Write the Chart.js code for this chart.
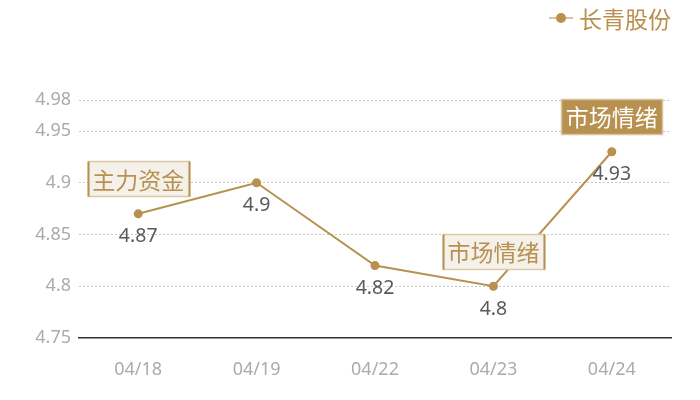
<!DOCTYPE html>
<html><head><meta charset="utf-8">
<script src="https://cdn.jsdelivr.net/npm/chart.js@4.4.1/dist/chart.umd.min.js"></script>
<style>html,body{margin:0;padding:0;background:#fff}#wrap{width:700px;height:400px}</style>
</head><body><div id="wrap"><canvas id="c"></canvas></div>
<script>
const categories = ['04/18','04/19','04/22','04/23','04/24'];
const seriesName = '长青股份';
const values = [4.87, 4.9, 4.82, 4.8, 4.93];
const yTicks = [4.75, 4.8, 4.85, 4.9, 4.95, 4.98];
const notes = [
  {index: 0, text: '主力资金', dark: false},
  {index: 3, text: '市场情绪', dark: false},
  {index: 4, text: '市场情绪', dark: true}
];

const GOLD = '#b8904f';
const NUM_FONT = '"Noto Sans", "Noto Sans CJK SC", sans-serif';
const CJK_FONT = '"Noto Sans CJK SC", sans-serif';

const overlay = {
  id: 'overlay',
  afterDatasetsDraw(chart) {
    const ctx = chart.ctx;
    const xs = chart.scales.x, ys = chart.scales.y;
    ctx.save();
    // data labels
    ctx.font = '19.5px ' + NUM_FONT;
    ctx.fillStyle = '#5a5a5a';
    ctx.textAlign = 'center';
    ctx.textBaseline = 'middle';
    values.forEach((v, i) => {
      ctx.fillText(String(v), xs.getPixelForValue(i), ys.getPixelForValue(v) + 23);
    });
    // note boxes
    ctx.font = '23px ' + CJK_FONT;
    notes.forEach(n => {
      const cx = xs.getPixelForValue(n.index);
      const cy = ys.getPixelForValue(values[n.index]) - 35;
      const w = 101, h = 35;
      const x0 = Math.round(cx - w / 2) + 0.5, y0 = Math.round(cy - h / 2) + 0.5;
      ctx.fillStyle = n.dark ? GOLD : '#f4f0ea';
      ctx.fillRect(x0, y0, w, h);
      ctx.lineWidth = 1.5;
      ctx.strokeStyle = n.dark ? '#d8c39c' : '#dccaa6';
      ctx.strokeRect(x0, y0, w, h);
      if (!n.dark) {
        ctx.strokeStyle = GOLD;
        ctx.lineWidth = 2;
        ctx.beginPath();
        ctx.moveTo(x0, y0); ctx.lineTo(x0, y0 + h);
        ctx.moveTo(x0 + w, y0); ctx.lineTo(x0 + w, y0 + h);
        ctx.stroke();
      }
      ctx.fillStyle = n.dark ? '#ffffff' : GOLD;
      ctx.textAlign = 'center';
      ctx.textBaseline = 'middle';
      ctx.fillText(n.text, cx, cy + 1);
    });
    // legend
    const lx = 561, ly = 18;
    ctx.strokeStyle = '#d8c39c';
    ctx.lineWidth = 2;
    ctx.beginPath(); ctx.moveTo(lx - 12, ly); ctx.lineTo(lx + 12, ly); ctx.stroke();
    ctx.fillStyle = GOLD;
    ctx.beginPath(); ctx.arc(lx, ly, 5, 0, Math.PI * 2); ctx.fill();
    ctx.font = '23px ' + CJK_FONT;
    ctx.textAlign = 'left';
    ctx.fillText(seriesName, 579, ly + 1);
    ctx.restore();
  }
};

new Chart(document.getElementById('c'), {
  type: 'line',
  data: {
    labels: categories,
    datasets: [{
      label: seriesName,
      data: values,
      borderColor: GOLD,
      backgroundColor: GOLD,
      borderWidth: 2,
      pointRadius: 4.5,
      pointHoverRadius: 4.5,
      pointBorderWidth: 0,
      tension: 0
    }]
  },
  options: {
    responsive: true,
    maintainAspectRatio: false,
    animation: false,
    layout: {padding: {top: 100, right: 29, left: 0, bottom: 0}},
    plugins: {legend: {display: false}, tooltip: {enabled: false}},
    scales: {
      x: {
        offset: true,
        grid: {display: false, drawTicks: false},
        border: {display: true, color: '#333333', width: 1.5},
        ticks: {color: '#ababab', font: {size: 18, family: NUM_FONT}, padding: 21},
        afterFit(s) { s.height = 62; }
      },
      y: {
        min: 4.75, max: 4.98,
        afterBuildTicks(s) { s.ticks = yTicks.map(v => ({value: v})); },
        grid: {
          color: (c) => c.tick && c.tick.value === 4.75 ? 'rgba(0,0,0,0)' : '#c8c8c8',
          drawTicks: false,
          lineWidth: 1
        },
        border: {display: false, dash: [2, 2]},
        ticks: {color: '#ababab', font: {size: 18, family: NUM_FONT}, padding: 8,
          callback: (v) => String(v)},
        afterFit(s) { s.width = 79; }
      }
    }
  },
  plugins: [overlay]
});
</script>
</body></html>
